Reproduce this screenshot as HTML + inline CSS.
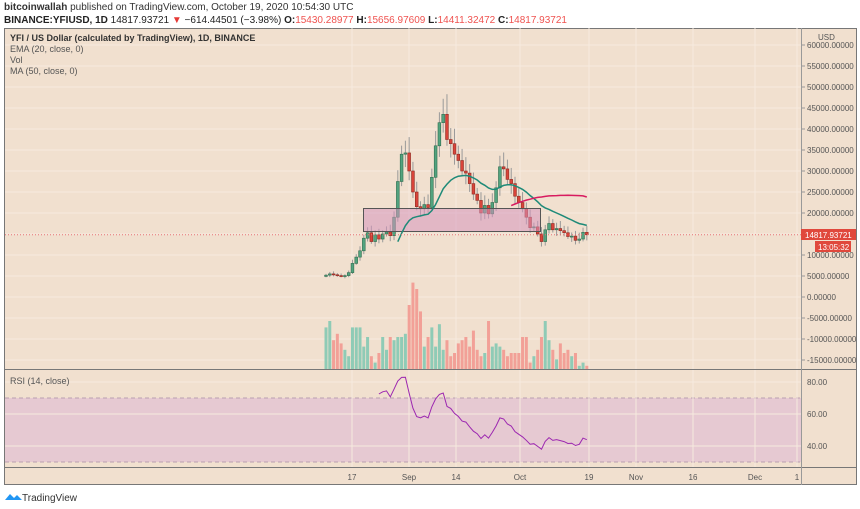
<!DOCTYPE html>
<html><head><meta charset="utf-8"><style>
body{margin:0;width:860px;height:509px;background:#fff;font-family:"Liberation Sans",sans-serif;overflow:hidden;position:relative}
.t{position:absolute;white-space:nowrap}
</style></head><body>
<div class="t" style="left:4px;top:2px;font-size:10px;color:#333"><b>bitcoinwallah</b> published on TradingView.com, October 19, 2020 10:54:30 UTC</div>
<div class="t" style="left:4px;top:15px;font-size:10px;color:#222"><b>BINANCE:YFIUSD, 1D</b> 14817.93721 <span style="color:#e53935">▼</span> −614.44501 (−3.98%) <b>O:</b><span style="color:#ef5350">15430.28977</span> <b>H:</b><span style="color:#ef5350">15656.97609</span> <b>L:</b><span style="color:#ef5350">14411.32472</span> <b>C:</b><span style="color:#ef5350">14817.93721</span></div>
<svg id="s" width="860" height="509" style="position:absolute;left:0;top:0" xmlns="http://www.w3.org/2000/svg" font-family="Liberation Sans, sans-serif">
<rect x="4.5" y="28.5" width="852" height="456" fill="#f1e0cf" stroke="#777"/>
<rect x="5" y="398" width="796" height="64" fill="#e6c9d2"/>
<line x1="5" y1="398" x2="801" y2="398" stroke="#b9a0b0" stroke-dasharray="4,3"/>
<line x1="5" y1="462" x2="801" y2="462" stroke="#b9a0b0" stroke-dasharray="4,3"/>
<g id="grid" stroke="#f6eadf" stroke-width="1"></g>
<line x1="4" y1="369.5" x2="857" y2="369.5" stroke="#777"/>
<line x1="4" y1="467.5" x2="857" y2="467.5" stroke="#777"/>
<line x1="801.5" y1="28" x2="801.5" y2="485" stroke="#999"/>
<g font-size="8" fill="#555" id="ax">
<text x="818" y="40">USD</text>
</g>
<g font-size="8" fill="#555" text-anchor="middle">
<text x="352" y="480">17</text><text x="409" y="480">Sep</text><text x="456" y="480">14</text><text x="520" y="480">Oct</text><text x="589" y="480">19</text><text x="636" y="480">Nov</text><text x="693" y="480">16</text><text x="755" y="480">Dec</text><text x="797" y="480">1</text>
</g>
<g font-size="8" fill="#555">
<text x="807" y="385">80.00</text><text x="807" y="417">60.00</text><text x="807" y="449">40.00</text>
</g>
<g id="plot"></g>
<line x1="5" y1="234.8" x2="801" y2="234.8" stroke="#e57373" stroke-dasharray="1,2"/>
<rect x="801" y="229" width="55" height="11" fill="#e0483c"/>
<text x="805" y="238" font-size="8" fill="#fff">14817.93721</text>
<rect x="815" y="241" width="36" height="11" fill="#e0483c"/>
<text x="818" y="250" font-size="8" fill="#fff">13:05:32</text>
<text x="10" y="41" font-size="9" fill="#333" font-weight="bold">YFI / US Dollar (calculated by TradingView), 1D, BINANCE</text>
<text x="10" y="52" font-size="9" fill="#555">EMA (20, close, 0)</text>
<text x="10" y="63" font-size="9" fill="#555">Vol</text>
<text x="10" y="74" font-size="9" fill="#555">MA (50, close, 0)</text>
<text x="10" y="384" font-size="9" fill="#555">RSI (14, close)</text>
<path d="M5 500 l5-6 4 4 3-3 5 5 z" fill="#2196f3"/>
<text x="22" y="501" font-size="10" fill="#333">TradingView</text>
</svg>
<script>
var s=document.getElementById('plot'),NS='http://www.w3.org/2000/svg';
function el(t,a,p){var e=document.createElementNS(NS,t);for(var k in a)e.setAttribute(k,a[k]);(p||s).appendChild(e);return e;}
var g=document.getElementById('grid'),ax=document.getElementById('ax');
for(var v=60000;v>=-15000;v-=5000){var y=297-v*0.0042;el('line',{x1:5,y1:y,x2:801,y2:y},g);el('line',{x1:801,y1:y,x2:805,y2:y,stroke:'#999'},ax);var t=el('text',{x:807,y:y+3},ax);t.textContent=v.toFixed(5);}
[382,414,446].forEach(function(y){el('line',{x1:5,y1:y,x2:801,y2:y},g);});
[352,409,456,520,589,636,693,755,797].forEach(function(x){el('line',{x1:x,y1:28,x2:x,y2:467},g);});
var C=[5.2,5.5,5.3,5.1,4.9,5.1,5.8,8.0,9.5,11.0,14.0,15.3,13.2,14.8,13.8,15.0,15.5,14.6,19.0,27.5,34.0,
34.3,30.0,25.0,21.5,21.0,22.0,21.3,28.5,36.0,41.5,43.5,37.5,36.5,34.0,32.5,30.0,29.5,27.0,24.5,23.0,20.0,21.8,19.8,22.5,26.0,31.0,30.5,28.0,27.0,24.0,
22.5,21.0,19.0,16.5,16.7,15.0,13.2,16.0,17.5,16.0,16.3,15.8,15.3,14.4,14.5,13.5,13.8,15.4,14.817];
var VOL=[13,15,9,11,8,6,4,13,13,13,7,10,4,2,5,10,6,10,9,10,10,11,20,27,25,18,7,10,13,7,14,6,9,4,5,8,9,10,7,12,6,4,5,15,7,8,7,6,4,5,5,5,10,10,2,4,6,10,15,9,6,3,8,5,6,4,5,1,2,1];
function X(i){return 326+i*3.78;}function Y(p){return 297-p*4.2;}
var o=4.9;
for(var i=0;i<C.length;i++){var c=C[i],up=c>=o,col=up?'#53a37f':'#d9443a';
var h=Math.max(o,c)*(1+0.06+0.05*((i*7)%5)/4),l=Math.min(o,c)*(1-0.04-0.05*((i*3)%4)/3);
el('line',{x1:X(i),y1:Y(h),x2:X(i),y2:Y(l),stroke:'#999','stroke-width':1});
el('rect',{x:X(i)-1.4,y:Y(Math.max(o,c)),width:2.8,height:Math.max(1,Math.abs(Y(o)-Y(c))),fill:col,stroke:up?'#2f6e4f':'#8e2a22','stroke-width':0.6});
var vh=VOL[i]*3.2;el('rect',{x:X(i)-1.5,y:369-vh,width:3,height:vh,fill:up?'#8fcbb6':'#f2a097'});
o=c;}
el('rect',{x:363.5,y:208.5,width:177,height:23,fill:'rgba(213,150,190,0.55)',stroke:'#555','stroke-width':1});
var e=C[0],k=2/21,pe='';for(i=0;i<C.length;i++){e=i==0?C[0]:C[i]*k+e*(1-k);if(i>=19)pe+=(pe?'L':'M')+X(i).toFixed(1)+' '+Y(e).toFixed(1);}
el('path',{d:pe,fill:'none',stroke:'#1e8a78','stroke-width':1.5});
var pm='';for(i=49;i<C.length;i++){var sm=0;for(var j=i-49;j<=i;j++)sm+=C[j];pm+=(pm?'L':'M')+X(i).toFixed(1)+' '+Y(sm/50).toFixed(1);}
el('path',{d:pm,fill:'none',stroke:'#d81b60','stroke-width':1.5});
var ag=0,al=0,pr='';for(i=1;i<C.length;i++){var d=C[i]-C[i-1],gn=Math.max(d,0),ls=Math.max(-d,0);
if(i<=14){ag+=gn/14;al+=ls/14;}else{ag=(ag*13+gn)/14;al=(al*13+ls)/14;}
if(i>=14){var r=100-100/(1+ag/(al||1e-9));r=55+(r-55)*0.8;pr+=(pr?'L':'M')+X(i).toFixed(1)+' '+(382+(80-r)*1.6).toFixed(1);}}
el('path',{d:pr,fill:'none',stroke:'#9c27b0','stroke-width':1});
</script>
</body></html>
